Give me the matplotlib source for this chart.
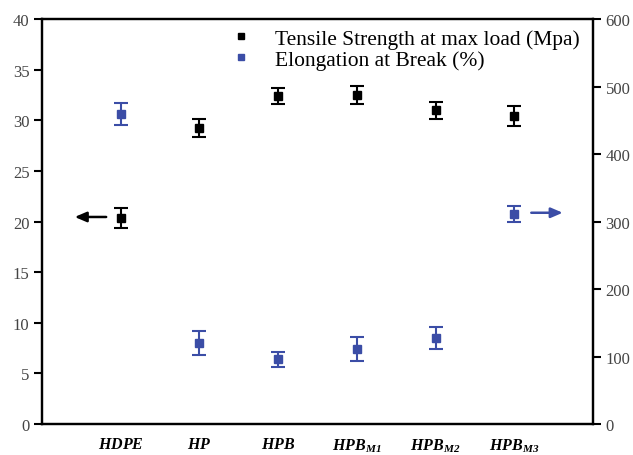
import matplotlib
matplotlib.use("Agg")
import matplotlib.pyplot as plt
from matplotlib.lines import Line2D

plt.rcParams['font.family'] = ['Liberation Serif', 'DejaVu Serif']
plt.rcParams['mathtext.fontset'] = 'custom'
plt.rcParams['mathtext.rm'] = 'Liberation Serif:bold:italic'
plt.rcParams['mathtext.it'] = 'Liberation Serif:bold:italic'

samples = [r'$\mathrm{HDPE}$', r'$\mathrm{HP}$', r'$\mathrm{HPB}$',
           r'$\mathrm{HPB}_{\mathrm{M1}}$', r'$\mathrm{HPB}_{\mathrm{M2}}$', r'$\mathrm{HPB}_{\mathrm{M3}}$']
x_pos = [1, 2, 3, 4, 5, 6]
tensile = [20.35, 29.2, 32.4, 32.5, 31.0, 30.4]
tensile_err = [0.94, 0.89, 0.75, 0.85, 0.85, 0.99]
elong = [459, 120, 96, 111, 127, 311]
elong_err = [16, 18, 11, 18, 16, 12]

BLUE = '#3B4DA6'

fig = plt.figure(figsize=(6.33, 4.56), dpi=100)
ax = fig.add_axes([0.0664, 0.068, 0.8705, 0.888])
ax2 = ax.twinx()

ax.errorbar(x_pos, tensile, yerr=tensile_err, fmt='s', color='black', ms=6,
            capsize=5, elinewidth=1.5, capthick=1.5)
ax2.errorbar(x_pos, elong, yerr=elong_err, fmt='s', color=BLUE, ms=6,
             capsize=5, elinewidth=1.5, capthick=1.5)

ax.set_xlim(0, 7)
ax.set_ylim(0, 40)
ax2.set_ylim(0, 600)
ax.set_yticks(range(0, 41, 5))
ax2.set_yticks(range(0, 601, 100))
ax.set_xticks(x_pos)
ax.set_xticklabels(samples, fontsize=11.5)
ax.tick_params(axis='x', length=0, pad=9)
ax.tick_params(axis='y', direction='out', length=6, width=1.5, labelsize=12, pad=3)
ax2.tick_params(axis='y', direction='out', length=6, width=1.5, labelsize=12, pad=3)
for a in (ax, ax2):
    for s in a.spines.values():
        s.set_linewidth(1.6)
for lbl in ax.get_yticklabels() + ax2.get_yticklabels():
    lbl.set_color('#444444')

ax.annotate('', xy=(0.38, 20.45), xytext=(0.85, 20.45),
            arrowprops=dict(arrowstyle='-|>,head_length=0.7,head_width=0.3', color='black', lw=1.8))
ax2.annotate('', xy=(6.65, 313), xytext=(6.18, 313),
             arrowprops=dict(arrowstyle='-|>,head_length=0.7,head_width=0.3', color=BLUE, lw=1.8))

handles = [Line2D([], [], marker='s', ls='none', color='black', ms=5),
           Line2D([], [], marker='s', ls='none', color=BLUE, ms=5)]
ax2.legend(handles, ['Tensile Strength at max load (Mpa)', 'Elongation at Break (%)'],
           loc='upper right', frameon=False, fontsize=15.5, handletextpad=0.6,
           labelspacing=0.05, borderaxespad=0.2, bbox_to_anchor=(1.0, 1.008))

fig.savefig('out.png', dpi=100)
